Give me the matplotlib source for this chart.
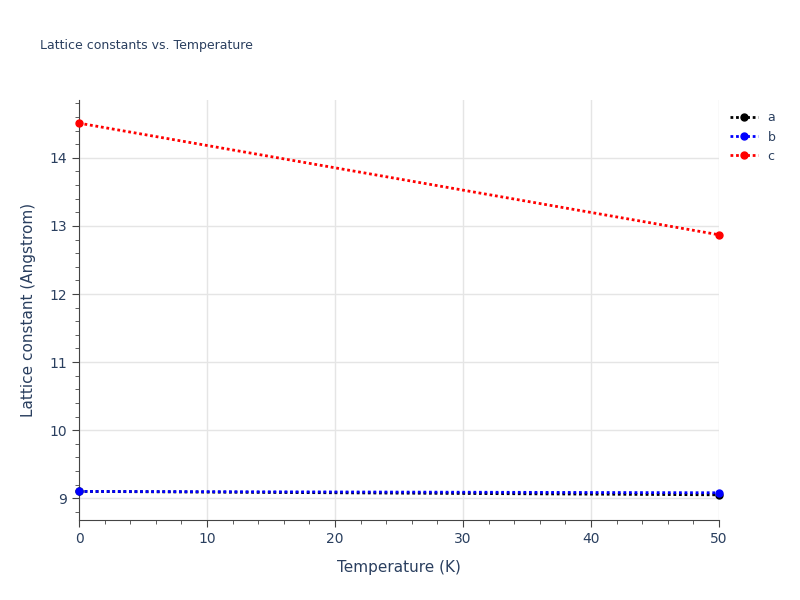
import matplotlib
matplotlib.use("Agg")
import matplotlib.pyplot as plt
from matplotlib.ticker import MultipleLocator

temps = [0, 50]
a_vals = [9.10, 9.05]
b_vals = [9.10, 9.08]
c_vals = [14.51, 12.87]
series = [("a", a_vals, "black"), ("b", b_vals, "blue"), ("c", c_vals, "red")]

fig = plt.figure(figsize=(8, 6), dpi=100)
ax = fig.add_axes([79/800, 80/600, 640/800, 420/600])
for name, vals, col in series:
    ax.plot(temps, vals, color=col, linestyle=(0, (1, 1)), linewidth=2,
            marker="o", markersize=5, label=name, clip_on=False, zorder=3)
ax.set_xlim(0, 50)
ax.set_ylim(8.68, 14.85)
ax.xaxis.set_major_locator(MultipleLocator(10))
ax.xaxis.set_minor_locator(MultipleLocator(2))
ax.yaxis.set_major_locator(MultipleLocator(1))
ax.yaxis.set_minor_locator(MultipleLocator(0.2))
ax.grid(True, which="major", color="#e5e5e5", linewidth=1)
for s in ["top", "right"]:
    ax.spines[s].set_visible(False)
for s in ["left", "bottom"]:
    ax.spines[s].set_color("#444444")
tc = "#2a3f5f"
ax.tick_params(which="major", length=5, colors="#444444", labelcolor=tc, labelsize=10)
ax.tick_params(which="minor", length=3, colors="#444444")
ax.set_xlabel("Temperature (K)", color=tc, fontsize=11, labelpad=10)
ax.set_ylabel("Lattice constant (Angstrom)", color=tc, fontsize=11, labelpad=10)
fig.text(40/800, 1 - 46/600, "Lattice constants vs. Temperature", color=tc, fontsize=9, va="center")
leg = ax.legend(loc="upper left", bbox_to_anchor=(1.0, 1.0), frameon=False,
                fontsize=9, labelcolor=tc, handlelength=2.2)
fig.savefig("out.png")
